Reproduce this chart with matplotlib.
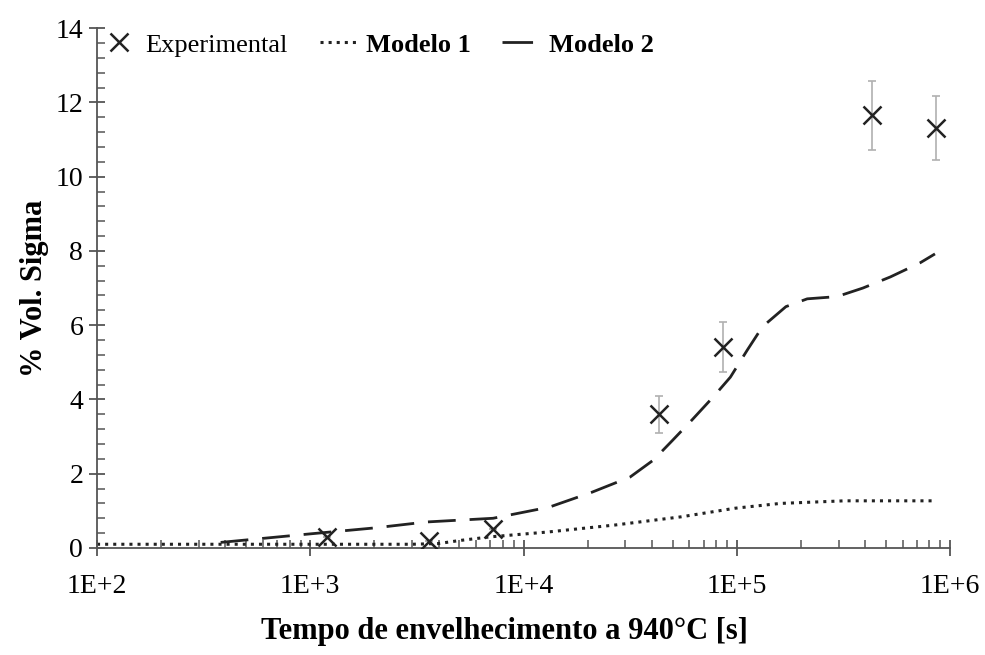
import matplotlib
matplotlib.use('Agg')
import numpy as np
import matplotlib.pyplot as plt
from matplotlib.ticker import LogLocator, MultipleLocator, FixedLocator

plt.rcParams['font.family'] = ['Liberation Serif', 'DejaVu Serif']

# experimental data
exp_t = [1200, 3600, 7200, 43200, 86400, 432000, 864000]
exp_v = [0.3, 0.18, 0.52, 3.6, 5.42, 11.66, 11.32]
exp_err = [0.0, 0.0, 0.0, 0.5, 0.67, 0.93, 0.86]

# Modelo 1 (dotted)
m1_t = [100, 1000, 3000, 4000, 5000, 7000, 1.3e4, 2.7e4, 5.5e4, 9.8e4, 1.6e5, 3.2e5, 8.2e5]
m1_v = [0.1, 0.1, 0.1, 0.12, 0.2, 0.3, 0.43, 0.62, 0.84, 1.07, 1.2, 1.27, 1.27]

# Modelo 2 (dashed)
m2_t = [380, 1000, 2000, 3500, 7200, 1.32e4, 2.09e4, 3.16e4, 4.07e4, 5.0e4, 6.17e4, 7.76e4,
        9.33e4, 1.12e5, 1.32e5, 1.7e5, 2.14e5, 2.95e5, 3.9e5, 5.25e5, 7.24e5, 8.5e5]
m2_v = [0.15, 0.38, 0.54, 0.7, 0.8, 1.1, 1.5, 1.91, 2.37, 2.9, 3.45, 4.07,
        4.6, 5.33, 5.96, 6.5, 6.71, 6.77, 7.0, 7.3, 7.68, 7.92]

fig = plt.figure(figsize=(9.85, 6.55), dpi=100)
ax = fig.add_axes([0.0985, 0.1634, 0.866, 0.7936])

ax.errorbar(exp_t, exp_v, yerr=exp_err, fmt='none', ecolor='#b0b0b0', elinewidth=1.2,
            capsize=3, capthick=1.2, zorder=2)
ax.plot(exp_t, exp_v, 'x', color='#222222', markersize=13, markeredgewidth=1.8,
        label='Experimental', zorder=3)
ax.plot(m1_t, m1_v, ':', color='#222222', linewidth=2.2, label='Modelo 1', zorder=2)
ax.plot(m2_t, m2_v, color='#222222', linewidth=2.0, dashes=(10, 5), label='Modelo 2', zorder=2)

ax.set_xscale('log')
ax.set_xlim(100, 1e6)
ax.set_ylim(0, 14)
ax.xaxis.set_major_locator(FixedLocator([1e2, 1e3, 1e4, 1e5, 1e6]))
ax.set_xticklabels(['1E+2', '1E+3', '1E+4', '1E+5', '1E+6'])
ax.xaxis.set_minor_locator(LogLocator(base=10, subs=np.arange(2, 10)))
ax.xaxis.set_minor_formatter(plt.NullFormatter())
ax.yaxis.set_major_locator(MultipleLocator(2))
ax.yaxis.set_minor_locator(MultipleLocator(0.4))

for s in ['top', 'right']:
    ax.spines[s].set_visible(False)
for s in ['left', 'bottom']:
    ax.spines[s].set_color('#555555')
    ax.spines[s].set_linewidth(1.3)

ax.tick_params(which='major', direction='inout', length=12, width=1.3, color='#555555',
               labelsize=20)
ax.tick_params(axis='x', which='major', pad=13)
ax.tick_params(axis='y', which='major', pad=4)
ax.tick_params(which='minor', direction='in', length=6, width=1.1, color='#555555')

ax.set_xlabel('Tempo de envelhecimento a 940°C [s]', fontsize=22, fontweight='bold')
ax.set_ylabel('% Vol. Sigma', fontsize=22, fontweight='bold')
ax.xaxis.set_label_coords(0.478, -0.132)
ax.yaxis.set_label_coords(-0.056, 0.5)

leg = ax.legend(loc='upper left', bbox_to_anchor=(-0.025, 1.036), ncol=3, frameon=False,
                fontsize=19, handlelength=1.5, columnspacing=1.2, handletextpad=0.25)
for t in leg.get_texts()[1:]:
    t.set_fontweight('bold')
# long dash + short dash look of the legend key
leg.get_lines()[2].set_dashes([11, 4, 3, 100])

plt.savefig('out.png', dpi=100)
